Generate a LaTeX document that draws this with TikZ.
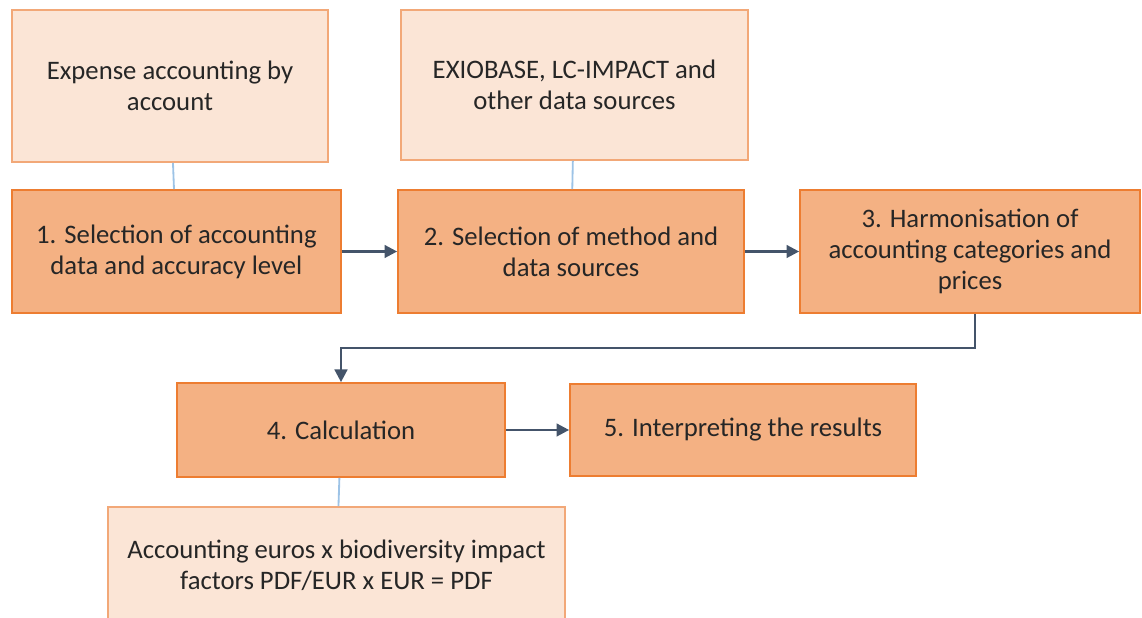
\documentclass[tikz,border=0pt]{standalone}
\usepackage{fontspec}
\setmainfont{Carlito}
\usetikzlibrary{arrows.meta}
\definecolor{stepfill}{HTML}{F4B183}
\definecolor{stepline}{HTML}{ED7D31}
\definecolor{srcfill}{HTML}{FBE5D6}
\definecolor{srcline}{HTML}{F2A878}
\definecolor{flow}{HTML}{44546A}
\definecolor{link}{HTML}{9DC3E6}
\begin{document}
\begin{tikzpicture}[>={Triangle[length=9pt,width=9pt]}]
\tikzstyle{Step} = [draw=stepline, fill=stepfill, line width=1.2, text=black!85, align=center, font={\fontsize{19}{22}\selectfont}, inner sep=0]
\tikzstyle{Source} = [draw=srcline, fill=srcfill, line width=1.2, text=black!85, align=center, font={\fontsize{19}{22}\selectfont}, inner sep=0]
\tikzstyle{Flow} = [draw=flow, line width=1.8]
\tikzstyle{Link} = [draw=link, line width=1.3]
\useasboundingbox (0,0) rectangle (28.55,15.45);
\node [Source, minimum width=7.9cm, minimum height=3.8cm] (v1) at (4.25,13.3) {Expense accounting by\\account};
\node [Source, minimum width=8.675cm, minimum height=3.75cm] (v2) at (14.36,13.325) {EXIOBASE, LC-IMPACT and\\other data sources};
\node [Step, minimum width=8.225cm, minimum height=3.075cm] (v3) at (4.41,9.1625) {1. Selection of accounting\\data and accuracy level};
\node [Step, minimum width=8.65cm, minimum height=3.075cm] (v4) at (14.275,9.1625) {2. Selection of method and\\data sources};
\node [Step, minimum width=8.5cm, minimum height=3.075cm] (v5) at (24.25,9.1625) {3. Harmonisation of\\accounting categories and\\prices};
\node [Step, minimum width=8.2cm, minimum height=2.35cm] (v6) at (8.525,4.7) {4. Calculation};
\node [Step, minimum width=8.65cm, minimum height=2.3cm] (v7) at (18.575,4.7) {5. Interpreting the results};
\node [Source, minimum width=11.425cm, minimum height=2.9cm] (v8) at (8.4125,1.325) {Accounting euros x biodiversity impact\\factors PDF/EUR x EUR = PDF};
\coordinate (v9) at (24.375,6.75);
\draw [Link] (v1) -- (v3);
\draw [Link] (v2) -- (v4);
\draw [Link] (v6) -- (v8);
\draw [Flow,->] (v3) -- (v4);
\draw [Flow,->] (v4) -- (v5);
\draw [Flow,->] (v5.south -| v9) -- (v9) -| (v6);
\draw [Flow,->] (v6) -- (v7);
\end{tikzpicture}
\end{document}
